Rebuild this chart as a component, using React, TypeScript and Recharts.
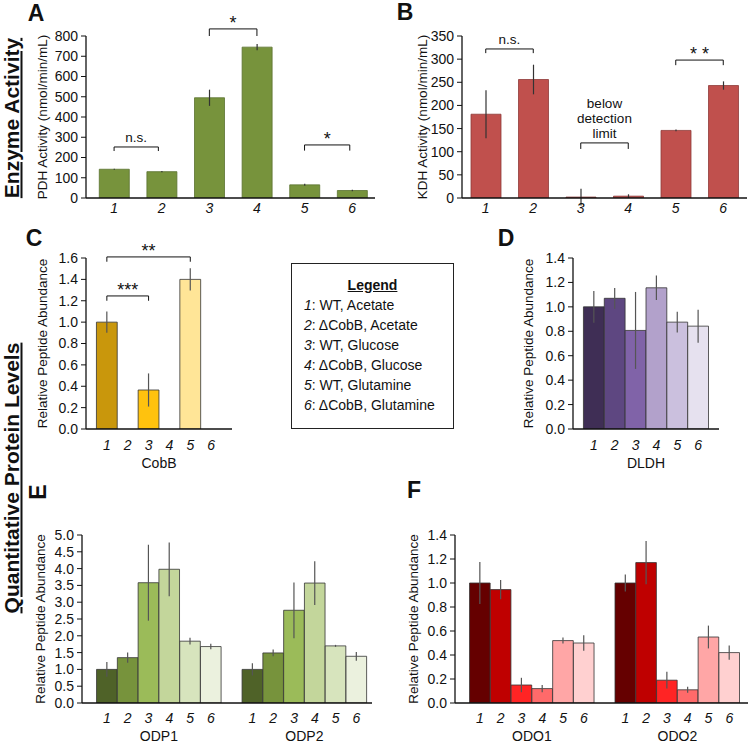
import React from "react";
import { BarChart, Bar, XAxis, YAxis, ErrorBar, Cell, ReferenceLine } from "recharts";

const FONT = "'Liberation Sans', Arial, Helvetica, sans-serif";
const INK = "#111";

// sample numbering used by every panel, and the legend text
const sampleIds = [1, 2, 3, 4, 5, 6];
const sampleNames = [
  "WT, Acetate",
  "ΔCobB, Acetate",
  "WT, Glucose",
  "ΔCobB, Glucose",
  "WT, Glutamine",
  "ΔCobB, Glutamine",
];

// A: PDH activity
const pdhValues = [142, 130, 495, 745, 65, 37];
const pdhErrors = [3, 3, 40, 15, 5, 4];
const pdhTicks = [0, 100, 200, 300, 400, 500, 600, 700, 800];
const pdhBrackets = [
  { from: 1, to: 1.93, top: 252, leg: 232, lines: ["n.s."] },
  { from: 3, to: 4, top: 835, leg: 800, lines: ["*"] },
  { from: 5, to: 5.95, top: 262, leg: 234, lines: ["*"] },
];

// B: KDH activity
const kdhValues = [181, 256, 2, 4, 146, 243];
const kdhErrors = [52, 32, 18, 4, 2, 9];
const kdhTicks = [0, 50, 100, 150, 200, 250, 300, 350];
const kdhBrackets = [
  { from: 1, to: 2, top: 322, leg: 313, lines: ["n.s."] },
  { from: 3, to: 4, top: 119, leg: 106, lines: ["below", "detection", "limit"] },
  { from: 5, to: 6, top: 298, leg: 287, lines: ["* *"] },
];

// C: CobB
const cobbValues = [1.0, null, 0.365, null, 1.4, null];
const cobbErrors = [0.1, null, 0.155, null, 0.105, null];
const cobbColors = ["#C9970C", "#C9970C", "#FFC20E", "#FFC20E", "#FFE597", "#FFE597"];
const cobbTicks = [0, 0.2, 0.4, 0.6, 0.8, 1.0, 1.2, 1.4, 1.6];
const cobbBrackets = [
  { from: 1, to: 5, top: 1.61, leg: 1.565, lines: ["**"] },
  { from: 1, to: 3, top: 1.245, leg: 1.2, lines: ["***"] },
];

// D: DLDH
const dldhValues = [1.0, 1.07, 0.807, 1.156, 0.875, 0.842];
const dldhErrors = [0.13, 0.085, 0.315, 0.1, 0.085, 0.135];
const dldhColors = ["#3F2E55", "#5E4781", "#8063A8", "#B2A1CB", "#CBC0DE", "#E6E1EF"];
const ticks14 = [0, 0.2, 0.4, 0.6, 0.8, 1.0, 1.2, 1.4];

// E: ODP1 / ODP2
const odpGroups = ["ODP1", "ODP2"];
const odp1Values = [1.0, 1.35, 3.58, 3.98, 1.84, 1.68];
const odp1Errors = [0.22, 0.15, 1.13, 0.8, 0.1, 0.08];
const odp2Values = [1.0, 1.49, 2.76, 3.57, 1.7, 1.39];
const odp2Errors = [0.18, 0.1, 0.83, 0.65, 0.03, 0.13];
const greenShades = ["#4F6228", "#77933C", "#9BBB59", "#C3D69B", "#D7E4BD", "#EBF1DE"];
const odpTicks = [0, 0.5, 1.0, 1.5, 2.0, 2.5, 3.0, 3.5, 4.0, 4.5, 5.0];

// F: ODO1 / ODO2
const odoGroups = ["ODO1", "ODO2"];
const odo1Values = [1.0, 0.945, 0.15, 0.12, 0.52, 0.5];
const odo1Errors = [0.175, 0.08, 0.06, 0.03, 0.025, 0.065];
const odo2Values = [1.0, 1.17, 0.19, 0.11, 0.55, 0.42];
const odo2Errors = [0.07, 0.18, 0.07, 0.025, 0.095, 0.06];
const redShades = ["#650000", "#BF0000", "#FF2424", "#FF6A6A", "#FFA6A6", "#FFD0D0"];

type Row = { x: number; value: number | null; err: number | null; fill: string };

const rows = (values: (number | null)[], errors: (number | null)[], colors: string[], shift = 0): Row[] =>
  sampleIds.map((id, i) => ({ x: id + shift, value: values[i], err: errors[i], fill: colors[i] }));

const fmt1 = (v: number) => v.toFixed(1);

const NumTick = (dy: number, shift: number) => (props: any) => {
  const { x, y, payload } = props;
  const v = payload.value > shift ? payload.value - shift : payload.value;
  return (
    <text x={x} y={y} dy={dy} textAnchor="middle" fontStyle="italic" fontSize={14} fill={INK}>
      {v}
    </text>
  );
};

const GroupTick = (names: string[]) => (props: any) => {
  const { x, y, payload } = props;
  return (
    <text x={x} y={y} dy={13.5} textAnchor="middle" fontSize={14} fill={INK}>
      {payload.value < 7 ? names[0] : names[1]}
    </text>
  );
};

const stackLabel = (lines: string[]) => (props: any) => {
  const vb = props.viewBox || {};
  const cx = vb.x + (vb.width || 0) / 2;
  const stars = /^[* ]+$/.test(lines[0]);
  const base = vb.y - (stars ? 0 : 5);
  return (
    <text x={cx} y={base} textAnchor="middle" fontSize={stars ? 18 : 13.5} fill={INK}>
      {lines.map((l, i) => (
        <tspan key={i} x={cx} dy={i === 0 ? -(lines.length - 1) * 15 : 15}>
          {l}
        </tspan>
      ))}
    </text>
  );
};

type Br = { from: number; to: number; top: number; leg: number; lines: string[] };

const bracketLines = (list: Br[]) =>
  list.flatMap((b, i) => [
    <ReferenceLine
      key={`h${i}`}
      segment={[{ x: b.from, y: b.top }, { x: b.to, y: b.top }]}
      stroke={INK}
      strokeWidth={1}
      ifOverflow="visible"
      label={stackLabel(b.lines)}
    />,
    <ReferenceLine
      key={`l${i}`}
      segment={[{ x: b.from, y: b.top }, { x: b.from, y: b.leg }]}
      stroke={INK}
      strokeWidth={1}
      ifOverflow="visible"
    />,
    <ReferenceLine
      key={`r${i}`}
      segment={[{ x: b.to, y: b.top }, { x: b.to, y: b.leg }]}
      stroke={INK}
      strokeWidth={1}
      ifOverflow="visible"
    />,
  ]);

type PanelProps = {
  left: number;
  top: number;
  width: number;
  height: number;
  margin: { top: number; right: number; bottom: number; left: number };
  data: Row[];
  xDomain: [number, number];
  xTicks: number[];
  xHeight: number;
  tickDy: number;
  tickShift?: number;
  xLabel?: string;
  groups?: string[];
  yDomain: [number, number];
  yTicks: number[];
  yFmt?: (v: number) => string;
  yWidth: number;
  yLabel: string;
  yLabelOffset: number;
  barSize: number;
  edge: string;
  errColor: string;
  brackets?: Br[];
};

function Panel(p: PanelProps) {
  return (
    <div style={{ position: "absolute", left: p.left, top: p.top }}>
      <BarChart width={p.width} height={p.height} data={p.data} margin={p.margin}>
        <XAxis
          type="number"
          dataKey="x"
          domain={p.xDomain}
          ticks={p.xTicks}
          interval={0}
          allowDataOverflow
          height={p.xHeight}
          tickLine={false}
          tickSize={0}
          tickMargin={0}
          axisLine={{ stroke: INK, strokeWidth: 1.3 }}
          tick={NumTick(p.tickDy, p.tickShift ?? 100)}
          label={
            p.xLabel
              ? { value: p.xLabel, position: "insideBottom", offset: 0, fontSize: 14, fill: INK }
              : undefined
          }
        />
        {p.groups && (
          <XAxis
            xAxisId="grp"
            type="number"
            dataKey="x"
            domain={p.xDomain}
            ticks={[3.5, 10.5]}
            interval={0}
            allowDataOverflow
            height={19}
            axisLine={false}
            tickLine={false}
            tickSize={0}
            tickMargin={0}
            tick={GroupTick(p.groups)}
          />
        )}
        <YAxis
          domain={p.yDomain}
          ticks={p.yTicks}
          interval={0}
          allowDataOverflow
          width={p.yWidth}
          tickFormatter={p.yFmt}
          tickSize={5}
          tickMargin={3}
          tick={{ fontSize: 14, fill: INK }}
          tickLine={{ stroke: INK, strokeWidth: 1 }}
          axisLine={{ stroke: INK, strokeWidth: 1.3 }}
          label={{
            value: p.yLabel,
            angle: -90,
            position: "insideLeft",
            offset: p.yLabelOffset,
            fontSize: 13.5,
            fill: INK,
            style: { textAnchor: "middle" },
          }}
        />
        <Bar dataKey="value" barSize={p.barSize} isAnimationActive={false} strokeWidth={0.8}>
          {p.data.map((d, i) => (
            <Cell key={i} fill={d.fill} stroke={p.edge} />
          ))}
          <ErrorBar dataKey="err" width={0} stroke={p.errColor} strokeWidth={1.2} direction="y" />
        </Bar>
        {p.brackets && bracketLines(p.brackets)}
      </BarChart>
    </div>
  );
}

const letterStyle = (left: number, top: number, rotate = 0): React.CSSProperties => ({
  position: "absolute",
  left,
  top,
  transform: `translate(-50%, -50%) rotate(${rotate}deg)`,
  fontSize: 23,
  fontWeight: 700,
  color: INK,
  lineHeight: 1,
});

const sectionStyle = (cx: number, cy: number): React.CSSProperties => ({
  position: "absolute",
  left: cx,
  top: cy,
  transform: "translate(-50%, -50%) rotate(-90deg)",
  fontSize: 21,
  fontWeight: 700,
  textDecoration: "underline",
  whiteSpace: "nowrap",
  color: INK,
  lineHeight: 1,
});

export default function App() {
  const pdhData = rows(pdhValues, pdhErrors, sampleIds.map(() => "#77933C"));
  const kdhData = rows(kdhValues, kdhErrors, sampleIds.map(() => "#C0504D"));
  const cobbData = rows(cobbValues, cobbErrors, cobbColors);
  const dldhData = rows(dldhValues, dldhErrors, dldhColors);
  const odpData = [...rows(odp1Values, odp1Errors, greenShades), ...rows(odp2Values, odp2Errors, greenShades, 7)];
  const odoData = [...rows(odo1Values, odo1Errors, redShades), ...rows(odo2Values, odo2Errors, redShades, 7)];
  const pairedTicks = [...sampleIds, ...sampleIds.map((s) => s + 7)];

  return (
    <div
      style={{
        position: "fixed",
        left: 0,
        top: 0,
        width: 750,
        height: 746,
        background: "#fff",
        fontFamily: FONT,
        overflow: "hidden",
      }}
    >
      <div style={letterStyle(36, 13)}>A</div>
      <div style={letterStyle(405, 12)}>B</div>
      <div style={letterStyle(34, 238)}>C</div>
      <div style={letterStyle(506, 238)}>D</div>
      <div style={letterStyle(38, 492, -90)}>E</div>
      <div style={letterStyle(414, 490)}>F</div>

      <div style={sectionStyle(11, 118)}>Enzyme Activity</div>
      <div style={sectionStyle(11, 478)}>Quantitative Protein Levels</div>

      <Panel
        left={0}
        top={0}
        width={380}
        height={225}
        margin={{ top: 36, right: 5, bottom: 5, left: 0 }}
        data={pdhData}
        xDomain={[0.41, 6.48]}
        xTicks={sampleIds}
        xHeight={22}
        tickDy={15}
        yDomain={[0, 800]}
        yTicks={pdhTicks}
        yWidth={86}
        yLabel="PDH Activity (nmol/min/mL)"
        yLabelOffset={42}
        barSize={30}
        edge="#5A7230"
        errColor="#333"
        brackets={pdhBrackets}
      />

      <Panel
        left={375}
        top={0}
        width={375}
        height={225}
        margin={{ top: 36, right: 3, bottom: 5, left: 0 }}
        data={kdhData}
        xDomain={[0.5, 6.5]}
        xTicks={sampleIds}
        xHeight={22}
        tickDy={15}
        yDomain={[0, 350]}
        yTicks={kdhTicks}
        yWidth={87}
        yLabel="KDH Activity (nmol/min/mL)"
        yLabelOffset={47}
        barSize={30}
        edge="#8E3A38"
        errColor="#333"
        brackets={kdhBrackets}
      />

      <Panel
        left={0}
        top={200}
        width={240}
        height={270}
        margin={{ top: 58, right: 8, bottom: 2, left: 0 }}
        data={cobbData}
        xDomain={[0, 7]}
        xTicks={sampleIds}
        xHeight={39}
        tickDy={20.5}
        xLabel="CobB"
        yDomain={[0, 1.6]}
        yTicks={cobbTicks}
        yFmt={fmt1}
        yWidth={86}
        yLabel="Relative Peptide Abundance"
        yLabelOffset={42}
        barSize={20.8}
        edge="#333"
        errColor="#555"
        brackets={cobbBrackets}
      />

      <div
        style={{
          position: "absolute",
          left: 291,
          top: 263,
          width: 163,
          height: 166,
          boxSizing: "border-box",
          border: "1.5px solid #222",
          paddingTop: 10.5,
          paddingLeft: 12,
          fontSize: 14,
          lineHeight: "20px",
          color: INK,
        }}
      >
        <div style={{ fontWeight: 700, textDecoration: "underline", textAlign: "center", paddingRight: 12 }}>
          Legend
        </div>
        {sampleIds.map((id, i) => (
          <div key={id} style={{ whiteSpace: "nowrap" }}>
            <i>{id}</i>: {sampleNames[i]}
          </div>
        ))}
      </div>

      <Panel
        left={490}
        top={200}
        width={235}
        height={270}
        margin={{ top: 58, right: 6, bottom: 2, left: 0 }}
        data={dldhData}
        xDomain={[0, 7]}
        xTicks={sampleIds}
        xHeight={39}
        tickDy={20.5}
        xLabel="DLDH"
        yDomain={[0, 1.4]}
        yTicks={ticks14}
        yFmt={fmt1}
        yWidth={83}
        yLabel="Relative Peptide Abundance"
        yLabelOffset={38}
        barSize={20.8}
        edge="#333"
        errColor="#555"
      />

      <Panel
        left={0}
        top={477}
        width={380}
        height={269}
        margin={{ top: 58, right: 8, bottom: 0, left: 0 }}
        data={odpData}
        xDomain={[-0.2, 13.75]}
        xTicks={pairedTicks}
        xHeight={24}
        tickDy={19.5}
        tickShift={7}
        groups={odpGroups}
        yDomain={[0, 5]}
        yTicks={odpTicks}
        yFmt={fmt1}
        yWidth={82}
        yLabel="Relative Peptide Abundance"
        yLabelOffset={40}
        barSize={20.6}
        edge="#333"
        errColor="#555"
      />

      <Panel
        left={375}
        top={477}
        width={375}
        height={269}
        margin={{ top: 58, right: 2, bottom: 0, left: 0 }}
        data={odoData}
        xDomain={[-0.2, 13.9]}
        xTicks={pairedTicks}
        xHeight={24}
        tickDy={19.5}
        tickShift={7}
        groups={odoGroups}
        yDomain={[0, 1.4]}
        yTicks={ticks14}
        yFmt={fmt1}
        yWidth={80}
        yLabel="Relative Peptide Abundance"
        yLabelOffset={38}
        barSize={20.6}
        edge="#333"
        errColor="#555"
      />
    </div>
  );
}
